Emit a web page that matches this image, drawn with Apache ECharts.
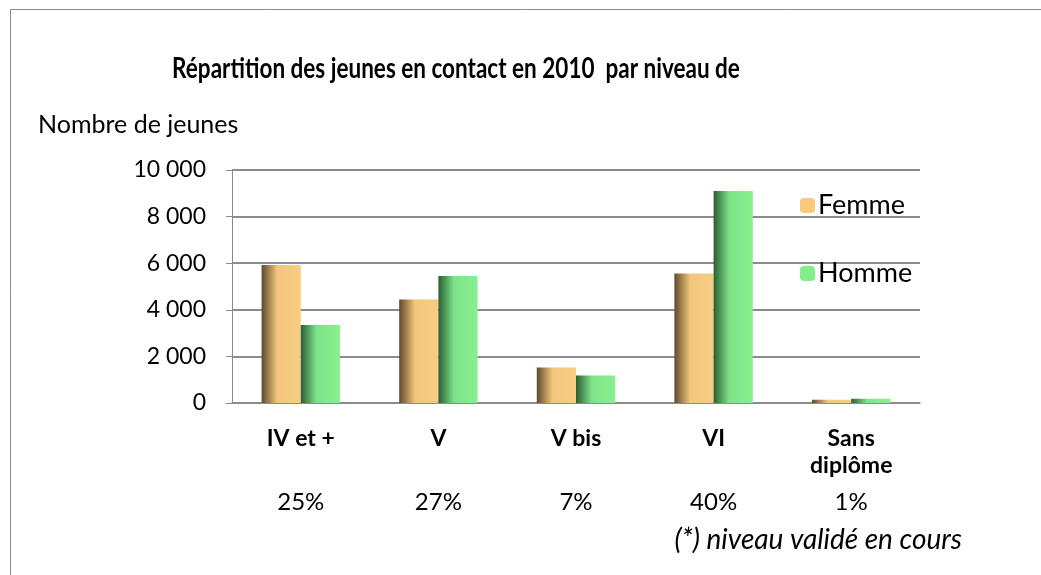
<!DOCTYPE html>
<html>
<head>
<meta charset="utf-8">
<script src="https://cdn.jsdelivr.net/npm/echarts@6/dist/echarts.min.js"></script>
<style>
  html, body { margin: 0; padding: 0; background: #fff; }
  #chart { width: 1041px; height: 575px; }
</style>
</head>
<body>
<div id="chart"></div>
<script>
// niveaux de formation
const categories = ['IV et +', 'V', 'V bis', 'VI', 'Sans\ndiplôme']
const femme = [5920, 4440, 1520, 5560, 140]
const homme = [3350, 5450, 1180, 9100, 180]
const parts = ['25%', '27%', '7%', '40%', '1%']
const yTicks = [0, 2000, 4000, 6000, 8000, 10000]

const FONT = 'Lato'

function shade(dark, mid, light) {
  return new echarts.graphic.LinearGradient(0, 0, 1, 0, [
    { offset: 0, color: dark },
    { offset: 0.4, color: mid },
    { offset: 1, color: light }
  ])
}

const myChart = echarts.init(document.getElementById('chart'))
const option = {
  animation: false,
  textStyle: { fontFamily: FONT },
  graphic: [
    {
      type: 'rect',
      shape: { x: 10.5, y: 9.5, width: 1100, height: 700 },
      style: { fill: 'none', stroke: '#8c8c8c', lineWidth: 1 }
    },
    {
      // titre un peu condensé, comme le Calibri d'origine
      type: 'text',
      x: 456,
      y: 69,
      scaleX: 0.79,
      style: {
        text: 'Répartition des jeunes en contact en 2010  par niveau de',
        fontSize: 28.5,
        fontWeight: 'bold',
        fill: '#000',
        fontFamily: FONT,
        align: 'center',
        verticalAlign: 'middle'
      }
    },
    {
      type: 'text',
      left: 38,
      top: 112,
      style: { text: 'Nombre de jeunes', fontSize: 25, fill: '#000', fontFamily: FONT }
    },
    {
      type: 'text',
      right: 79,
      top: 526,
      style: { text: '(*) niveau validé en cours', fontSize: 28, fontStyle: 'italic', fill: '#000', fontFamily: FONT }
    }
  ],
  legend: {
    orient: 'vertical',
    left: 795,
    top: 187,
    itemWidth: 15,
    itemHeight: 15,
    itemGap: 41,
    textStyle: { fontSize: 27, color: '#000', fontFamily: FONT, padding: [0, 0, 0, -2] },
    data: [
      { name: 'Femme', itemStyle: { color: '#f8cb7c' } },
      { name: 'Homme', itemStyle: { color: '#85ee8b' } }
    ]
  },
  grid: { left: 232, right: 121, top: 170, bottom: 172 },
  xAxis: [
    {
      type: 'category',
      data: categories,
      axisLine: { lineStyle: { color: '#8c8c8c', width: 1.5 } },
      axisTick: { length: 6, lineStyle: { color: '#8c8c8c' } },
      axisLabel: { margin: 22, fontSize: 23, fontWeight: 'bold', color: '#000', lineHeight: 27, fontFamily: FONT }
    },
    {
      type: 'category',
      position: 'bottom',
      data: parts,
      axisLine: { show: false },
      axisTick: { show: false },
      axisLabel: { margin: 87, fontSize: 24, color: '#000', fontFamily: FONT }
    }
  ],
  yAxis: {
    type: 'value',
    min: 0,
    max: 10000,
    interval: 2000,
    axisLine: { show: true, lineStyle: { color: '#8c8c8c' } },
    axisTick: { show: true, inside: false, length: 6, lineStyle: { color: '#8c8c8c' } },
    splitLine: { lineStyle: { color: '#8c8c8c', width: 1.8 } },
    axisLabel: {
      margin: 26,
      fontSize: 23,
      color: '#000',
      fontFamily: FONT,
      formatter: v => yTicks.includes(v) ? String(v).replace(/\B(?=(\d{3})+(?!\d))/g, ' ') : ''
    }
  },
  series: [
    {
      name: 'Femme',
      type: 'bar',
      data: femme,
      barGap: 0,
      barCategoryGap: '43%',
      itemStyle: { color: shade('#5e4a2b', '#f2c67c', '#f8cd82') }
    },
    {
      name: 'Homme',
      type: 'bar',
      data: homme,
      barGap: 0,
      barCategoryGap: '43%',
      itemStyle: { color: shade('#2a5e33', '#7fe389', '#88f08f') }
    }
  ]
}
myChart.setOption(option)
</script>
</body>
</html>
